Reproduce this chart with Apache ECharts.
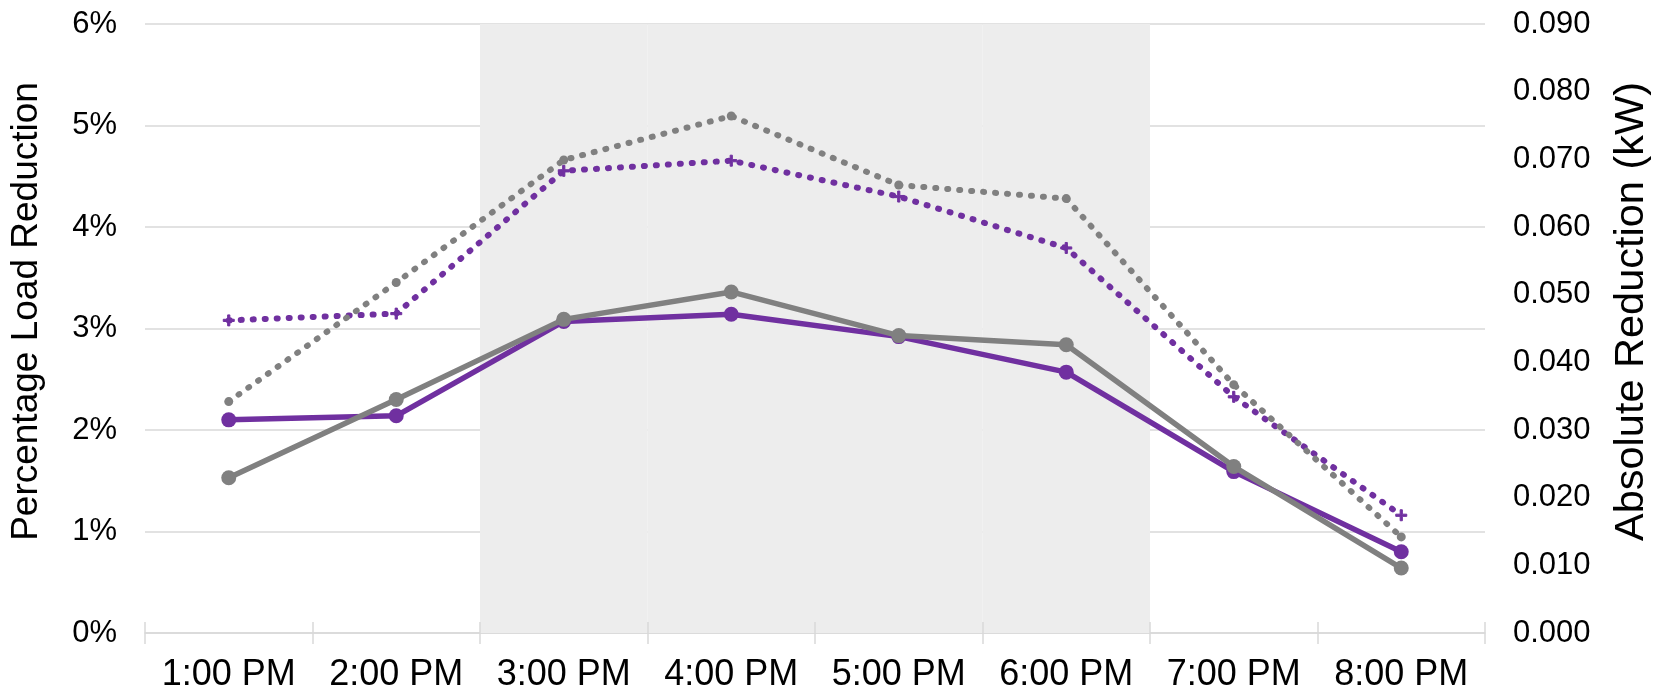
<!DOCTYPE html>
<html>
<head>
<meta charset="utf-8">
<title>Load Reduction by Hour</title>
<script src="https://cdn.jsdelivr.net/npm/echarts@6/dist/echarts.min.js"></script>
<style>
  html, body { margin: 0; padding: 0; background: #ffffff; }
  #chart { width: 1663px; height: 693px; }
</style>
</head>
<body>
<div id="chart"></div>
<script>
// Hour-ending categories
const categories = ['1:00 PM', '2:00 PM', '3:00 PM', '4:00 PM', '5:00 PM', '6:00 PM', '7:00 PM', '8:00 PM'];

// Event window (shaded hours)
const eventHours = ['3:00 PM', '4:00 PM', '5:00 PM', '6:00 PM'];

// Percentage load reduction (left axis, %)
const purplePct = [2.10, 2.14, 3.07, 3.14, 2.92, 2.57, 1.59, 0.80];
const grayPct   = [1.53, 2.30, 3.09, 3.36, 2.93, 2.84, 1.64, 0.64];

// Absolute reduction (right axis, kW)
const purpleKw = [0.0462, 0.0472, 0.0683, 0.0698, 0.0645, 0.0569, 0.0349, 0.0174];
const grayKw   = [0.0342, 0.0518, 0.0699, 0.0764, 0.0662, 0.0642, 0.0367, 0.0142];

// Axis ranges
const pctMax = 6;
const pctStep = 1;
const kwMax = 0.09;
const kwStep = 0.01;

const PURPLE = '#7030A0';
const GRAY = '#808080';
const GRID = '#d9d9d9';
const SHADE = '#ededed';
const FONT = 'Liberation Sans, Arial, sans-serif';

const shade = categories.map(c => eventHours.includes(c) ? pctMax : '-');

const chart = echarts.init(document.getElementById('chart'), null, { renderer: 'canvas' });

const dotted = { type: [1, 11], cap: 'round', width: 6 };

chart.setOption({
  animation: false,
  textStyle: { fontFamily: FONT, color: '#000' },
  grid: { left: 145, right: 178, top: 24, bottom: 60, containLabel: false },
  xAxis: [
    {
      type: 'category',
      data: categories,
      boundaryGap: true,
      axisLine: { show: true, lineStyle: { color: GRID, width: 1.5 } },
      axisTick: { show: true, length: 11, lineStyle: { color: GRID, width: 1.5 } },
      axisLabel: { interval: 0, fontFamily: FONT, fontSize: 36, color: '#000', margin: 24 },
      splitLine: { show: false }
    },
    {
      // inward half of the crossing tick marks
      type: 'category',
      data: categories,
      position: 'bottom',
      boundaryGap: true,
      axisLine: { show: false },
      axisTick: { show: true, inside: true, length: 11, lineStyle: { color: GRID, width: 1.5 } },
      axisLabel: { show: false },
      splitLine: { show: false }
    }
  ],
  yAxis: [
    {
      type: 'value',
      min: 0,
      max: pctMax,
      interval: pctStep,
      position: 'left',
      name: 'Percentage Load Reduction',
      nameLocation: 'middle',
      nameGap: 100,
      nameTextStyle: { fontFamily: FONT, fontSize: 37, color: '#000', padding: [0, 0, 0, 34] },
      axisLine: { show: false },
      axisTick: { show: false },
      axisLabel: { fontFamily: FONT, fontSize: 31, color: '#000', margin: 28, formatter: '{value}%' },
      splitLine: { show: true, lineStyle: { color: GRID, width: 1.5 } }
    },
    {
      type: 'value',
      min: 0,
      max: kwMax,
      interval: kwStep,
      position: 'right',
      name: 'Absolute Reduction (kW)',
      nameLocation: 'middle',
      nameGap: 126,
      nameTextStyle: { fontFamily: FONT, fontSize: 41.5, color: '#000', padding: [0, 0, 0, 34] },
      axisLine: { show: false },
      axisTick: { show: false },
      axisLabel: {
        fontFamily: FONT, fontSize: 31, color: '#000', margin: 28,
        formatter: v => v.toFixed(3)
      },
      splitLine: { show: false }
    }
  ],
  series: [
    {
      name: 'Event window',
      type: 'bar',
      xAxisIndex: 0,
      yAxisIndex: 0,
      data: shade,
      barWidth: '100%',
      barCategoryGap: '0%',
      itemStyle: { color: SHADE, borderColor: SHADE, borderWidth: 2 },
      silent: true,
      z: 0
    },
    {
      name: 'Purple absolute (kW)',
      type: 'line',
      yAxisIndex: 1,
      data: purpleKw,
      symbol: 'path://M4,0H6V4H10V6H6V10H4V6H0V4H4Z',
      symbolSize: 11,
      itemStyle: { color: PURPLE, borderColor: PURPLE, borderWidth: 1 },
      lineStyle: Object.assign({ color: PURPLE }, dotted),
      z: 3
    },
    {
      name: 'Gray absolute (kW)',
      type: 'line',
      yAxisIndex: 1,
      data: grayKw,
      symbol: 'circle',
      symbolSize: 9,
      itemStyle: { color: GRAY },
      lineStyle: Object.assign({ color: GRAY }, dotted),
      z: 3
    },
    {
      name: 'Purple percentage',
      type: 'line',
      yAxisIndex: 0,
      data: purplePct,
      symbol: 'circle',
      symbolSize: 15,
      itemStyle: { color: PURPLE },
      lineStyle: { color: PURPLE, width: 5.5 },
      z: 4
    },
    {
      name: 'Gray percentage',
      type: 'line',
      yAxisIndex: 0,
      data: grayPct,
      symbol: 'circle',
      symbolSize: 15,
      itemStyle: { color: GRAY },
      lineStyle: { color: GRAY, width: 5.5 },
      z: 5
    }
  ]
});
</script>
</body>
</html>
